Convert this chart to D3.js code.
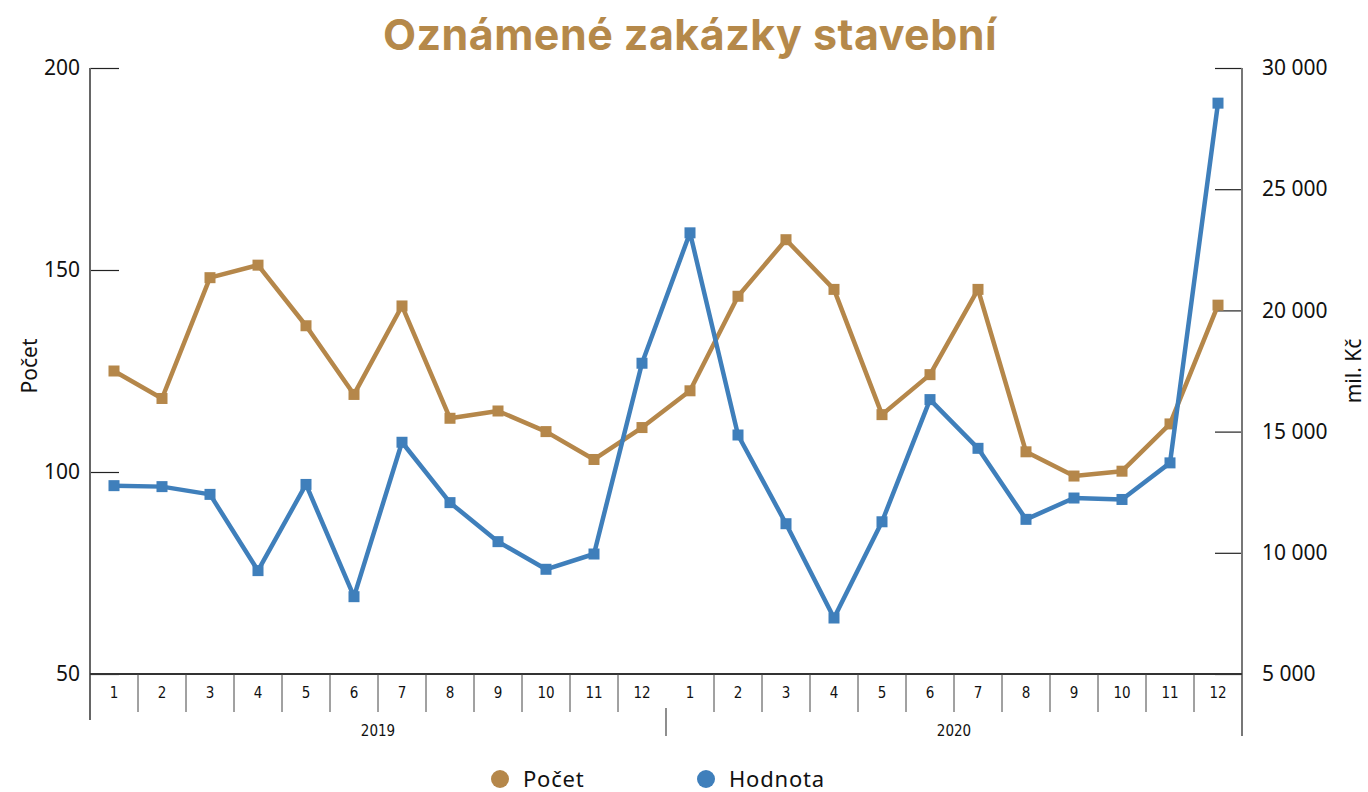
<!DOCTYPE html>
<html>
<head>
<meta charset="utf-8">
<script src="https://cdn.jsdelivr.net/npm/d3@7"></script>
<style>
  html, body { margin: 0; padding: 0; background: #ffffff; }
  svg { display: block; }
</style>
</head>
<body>
<svg id="chart" width="1368" height="792"></svg>
<script>
const months = ["1","2","3","4","5","6","7","8","9","10","11","12","1","2","3","4","5","6","7","8","9","10","11","12"];
const years = ["2019", "2020"];
const pocet = [125, 118.2, 148.1, 151.2, 136.2, 119.2, 141.1, 113.3, 115.1, 110.0, 103.1, 111.0,
               120.1, 143.5, 157.5, 145.2, 114.2, 124.1, 145.2, 105.0, 99.0, 100.2, 111.9, 141.3];
const hodnota = [12770, 12730, 12410, 9265, 12820, 8190, 14560, 12070, 10460, 9320, 9950, 17820,
                 23200, 14860, 11200, 7310, 11280, 16320, 14310, 11380, 12260, 12200, 13710, 28550];
const leftTicks = [50, 100, 150, 200];
const rightTicks = [5000, 10000, 15000, 20000, 25000, 30000];
const seriesNames = ["Počet", "Hodnota"];
const colors = ["#b5874a", "#3f7fbb"];

const svg = d3.select("#chart");
const X0 = 90, X1 = 1242, Y0 = 68, Y1 = 674;

const x = d3.scaleBand().domain(d3.range(months.length)).range([X0, X1]).paddingInner(0).paddingOuter(0);
const cx = i => x(i) + x.bandwidth() / 2;
const yL = d3.scaleLinear().domain([50, 200]).range([Y1, Y0]);
const yR = d3.scaleLinear().domain([5000, 30000]).range([Y1, Y0]);

// Title
const title = svg.append("text")
  .attr("x", 690).attr("y", 50)
  .attr("text-anchor", "middle")
  .attr("fill", "#b5894a")
  .style("font-family", "Inter, 'Noto Sans', sans-serif")
  .style("font-weight", 700)
  .style("font-size", "44px")
  .style("letter-spacing", "0.5px")
  .text("Oznámené zakázky stavební");
const tw = title.node().getComputedTextLength();
title.style("font-size", (44 * 614 / tw).toFixed(2) + "px");

const tickFont = "'Noto Sans', 'Open Sans', sans-serif";
const smallFont = "'Liberation Sans Narrow', 'DejaVu Sans Condensed', 'Noto Sans', sans-serif";

// Left axis
const gL = svg.append("g").attr("transform", `translate(${X0},0)`)
  .call(d3.axisLeft(yL).tickValues(leftTicks).tickSizeInner(-29).tickSizeOuter(0).tickPadding(10));
gL.select(".domain").remove();
gL.selectAll(".tick line").attr("stroke", "#222").attr("stroke-width", 1.2);
gL.selectAll(".tick text").style("font-family", tickFont).style("font-size", "21px").attr("fill", "#111");

// Right axis
const fmt = v => d3.format(",")(v).replace(/,/g, " ");
const gR = svg.append("g").attr("transform", `translate(${X1},0)`)
  .call(d3.axisRight(yR).tickValues(rightTicks).tickSizeInner(-27).tickSizeOuter(0).tickPadding(20).tickFormat(fmt));
gR.select(".domain").remove();
gR.selectAll(".tick line").attr("stroke", "#222").attr("stroke-width", 1.2);
gR.selectAll(".tick text").style("font-family", tickFont).style("font-size", "21px").attr("fill", "#111");

// Axis lines
svg.append("line").attr("x1", X0).attr("x2", X0).attr("y1", Y0).attr("y2", 720)
  .attr("stroke", "#666").attr("stroke-width", 2);
svg.append("line").attr("x1", X1).attr("x2", X1).attr("y1", Y0).attr("y2", 736)
  .attr("stroke", "#777").attr("stroke-width", 2);
svg.append("line").attr("x1", X0).attr("x2", X1).attr("y1", Y1).attr("y2", Y1)
  .attr("stroke", "#333").attr("stroke-width", 2);

// Category axis (month dividers)
const monthBounds = d3.range(1, months.length).filter(i => i % 12 !== 0);
svg.append("g").selectAll("line").data(monthBounds).join("line")
  .attr("x1", i => x(i)).attr("x2", i => x(i))
  .attr("y1", Y1).attr("y2", 712)
  .attr("stroke", "#444").attr("stroke-width", 1);
// year divider
svg.append("line").attr("x1", x(12)).attr("x2", x(12)).attr("y1", 708).attr("y2", 736)
  .attr("stroke", "#444").attr("stroke-width", 1.2);

svg.append("g").selectAll("text").data(months).join("text")
  .attr("x", (d, i) => cx(i)).attr("y", 698)
  .attr("text-anchor", "middle")
  .style("font-family", smallFont)
  .style("font-size", "15px").attr("fill", "#111")
  .text(d => d);

svg.append("g").selectAll("text").data(years).join("text")
  .attr("x", (d, i) => (x(i * 12) + (i === years.length - 1 ? X1 : x((i + 1) * 12))) / 2)
  .attr("y", 736)
  .attr("text-anchor", "middle")
  .style("font-family", smallFont)
  .style("font-size", "15px").attr("fill", "#111")
  .text(d => d);

// Axis titles
svg.append("text").attr("transform", "translate(37,366) rotate(-90)")
  .attr("text-anchor", "middle")
  .style("font-family", tickFont).style("font-size", "21px").attr("fill", "#111")
  .text("Počet");
svg.append("text").attr("transform", "translate(1361,371) rotate(-90)")
  .attr("text-anchor", "middle")
  .style("font-family", tickFont).style("font-size", "21px").attr("fill", "#111")
  .text("mil. Kč");

// Lines
const series = [
  { vals: pocet, y: yL, color: colors[0] },
  { vals: hodnota, y: yR, color: colors[1] }
];
series.forEach(s => {
  const line = d3.line().x((d, i) => cx(i)).y(d => s.y(d));
  svg.append("path").datum(s.vals).attr("d", line)
    .attr("fill", "none").attr("stroke", s.color).attr("stroke-width", 4.5)
    .attr("stroke-linejoin", "round");
  svg.append("g").selectAll("rect").data(s.vals).join("rect")
    .attr("x", (d, i) => cx(i) - 5.5).attr("y", d => s.y(d) - 5.5)
    .attr("width", 11).attr("height", 11)
    .attr("fill", s.color);
});

// Legend
const legX = [500, 706];
const leg = svg.append("g").selectAll("g").data(seriesNames).join("g")
  .attr("transform", (d, i) => `translate(${legX[i]},779)`);
leg.append("circle").attr("r", 9).attr("fill", (d, i) => colors[i]);
leg.append("text").attr("x", 23).attr("y", 8)
  .style("font-family", tickFont).style("font-size", "22px").attr("fill", "#111")
  .style("letter-spacing", "0.8px")
  .text(d => d);
</script>
</body>
</html>
